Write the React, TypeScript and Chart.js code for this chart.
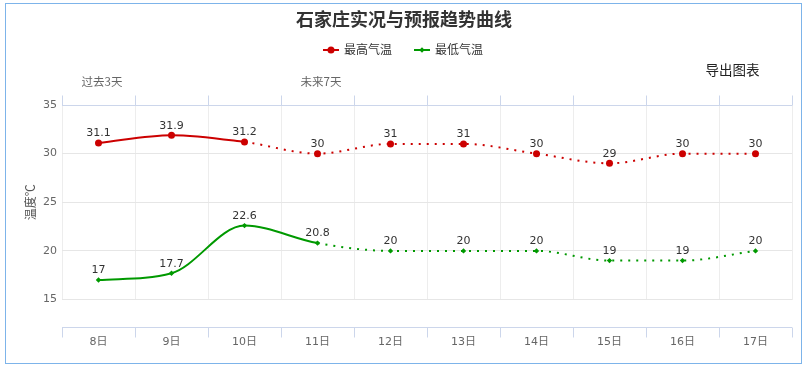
import React, { useEffect, useRef } from 'react';
import { Chart, registerables } from 'chart.js';

Chart.register(...registerables);

const chartTitle = '石家庄实况与预报趋势曲线';
const categories = ['8日', '9日', '10日', '11日', '12日', '13日', '14日', '15日', '16日', '17日'];
const seriesNames = ['最高气温', '最低气温'];
const highTemps = [31.1, 31.9, 31.2, 30, 31, 31, 30, 29, 30, 30];
const lowTemps = [17, 17.7, 22.6, 20.8, 20, 20, 20, 19, 19, 20];
// number of points drawn with a solid (observed) line, the rest are dotted (forecast)
const highSolidCount = 3;
const lowSolidCount = 4;
const yTicks = [15, 20, 25, 30, 35];
const yAxisTitle = '温度℃';
const bandLabels = ['过去3天', '未来7天'];
const bandStarts = [0, 3];
const exportLabel = '导出图表';

const RED = '#cc0000';
const GREEN = '#009900';
const LATIN = '"DejaVu Sans", "Noto Sans CJK SC", sans-serif';
const CJK = '"Noto Sans CJK SC", sans-serif';
const AXIS_OFFSET = 27.5;

const decorPlugin = {
  id: 'decor',
  beforeDatasetsDraw(chart: any) {
    const { ctx, chartArea } = chart;
    const xs = chart.scales.x;
    const align = (p: number) => Math.round(p - 0.5) + 0.5;
    ctx.save();
    ctx.strokeStyle = '#ccd6eb';
    ctx.lineWidth = 1;
    const topY = align(chartArea.top);
    const botY = align(chartArea.bottom + AXIS_OFFSET);
    ctx.beginPath();
    ctx.moveTo(chartArea.left, topY);
    ctx.lineTo(chartArea.right, topY);
    ctx.moveTo(chartArea.left, botY);
    ctx.lineTo(chartArea.right, botY);
    for (let i = 0; i <= categories.length; i++) {
      const px = align(xs.getPixelForValue(i - 0.5));
      ctx.moveTo(px, topY - 10);
      ctx.lineTo(px, topY);
      ctx.moveTo(px, botY);
      ctx.lineTo(px, botY + 10);
    }
    ctx.stroke();
    ctx.restore();
  },
  afterDatasetsDraw(chart: any) {
    const { ctx } = chart;
    ctx.save();
    ctx.font = `11px ${LATIN}`;
    ctx.fillStyle = '#333333';
    ctx.textAlign = 'center';
    ctx.textBaseline = 'middle';
    chart.data.datasets.forEach((ds: any, di: number) => {
      const meta = chart.getDatasetMeta(di);
      meta.data.forEach((el: any, i: number) => {
        ctx.fillText(String(ds.data[i]), el.x, el.y - 9.5);
      });
    });
    ctx.restore();
  },
  afterDraw(chart: any) {
    const { ctx } = chart;
    const xs = chart.scales.x;
    const ys = chart.scales.y;
    ctx.save();
    // outer border
    ctx.strokeStyle = '#7db4ea';
    ctx.lineWidth = 1;
    ctx.strokeRect(5.5, 3.5, 796, 360);

    // title
    ctx.fillStyle = '#333333';
    ctx.font = `bold 18px ${CJK}`;
    ctx.textAlign = 'center';
    ctx.textBaseline = 'middle';
    ctx.fillText(chartTitle, 404, 19);

    // legend
    ctx.font = `12px ${CJK}`;
    const symW = 16;
    const gapText = 5;
    const itemGap = 22;
    const widths = chart.data.datasets.map((ds: any) => symW + gapText + ctx.measureText(ds.label).width);
    const total = widths.reduce((a: number, b: number) => a + b, 0) + itemGap * (widths.length - 1);
    let lx = 403 - total / 2;
    const ly = 50;
    chart.data.datasets.forEach((ds: any, i: number) => {
      ctx.strokeStyle = ds.borderColor;
      ctx.fillStyle = ds.borderColor;
      ctx.lineWidth = 2;
      ctx.beginPath();
      ctx.moveTo(lx, ly);
      ctx.lineTo(lx + symW, ly);
      ctx.stroke();
      const cx = lx + symW / 2;
      ctx.beginPath();
      if (ds.pointStyle === 'rectRot') {
        const r = ds.pointRadius;
        ctx.moveTo(cx - r, ly);
        ctx.lineTo(cx, ly - r);
        ctx.lineTo(cx + r, ly);
        ctx.lineTo(cx, ly + r);
        ctx.closePath();
      } else {
        ctx.arc(cx, ly, ds.pointRadius, 0, Math.PI * 2);
      }
      ctx.fill();
      ctx.fillStyle = '#333333';
      ctx.textAlign = 'left';
      ctx.fillText(ds.label, lx + symW + gapText, ly - 0.5);
      lx += widths[i] + itemGap;
    });

    // export label
    ctx.fillStyle = '#222222';
    ctx.font = `13.5px ${CJK}`;
    ctx.textAlign = 'left';
    ctx.fillText(exportLabel, 705.5, 69.5);

    // band labels
    ctx.fillStyle = '#666666';
    ctx.font = `11.5px ${CJK}`;
    bandLabels.forEach((t, i) => {
      ctx.fillText(t, xs.getPixelForValue(bandStarts[i] - 0.5) + 19.5, 82);
    });

    // y axis title
    const midY = (ys.getPixelForValue(yTicks[0]) + ys.getPixelForValue(yTicks[yTicks.length - 1])) / 2;
    ctx.translate(30.5, midY);
    ctx.rotate(-Math.PI / 2);
    ctx.font = `12px ${CJK}`;
    ctx.fillStyle = '#555555';
    ctx.textAlign = 'center';
    ctx.fillText(yAxisTitle, 0, 0);
    ctx.restore();
  },
};

export default function App() {
  const canvasRef = useRef<HTMLCanvasElement | null>(null);

  useEffect(() => {
    if (!canvasRef.current) return;
    const chart = new Chart(canvasRef.current, {
      type: 'line',
      data: {
        labels: categories,
        datasets: [
          {
            label: seriesNames[0],
            data: highTemps,
            borderColor: RED,
            backgroundColor: RED,
            pointBackgroundColor: RED,
            pointBorderColor: RED,
            pointBorderWidth: 0,
            pointRadius: 3.5,
            pointStyle: 'circle',
            borderWidth: 2,
            cubicInterpolationMode: 'monotone',
            fill: false,
            segment: {
              borderDash: (c: any) => (c.p0DataIndex >= highSolidCount - 1 ? [2, 6] : undefined),
            },
          } as any,
          {
            label: seriesNames[1],
            data: lowTemps,
            borderColor: GREEN,
            backgroundColor: GREEN,
            pointBackgroundColor: GREEN,
            pointBorderColor: GREEN,
            pointBorderWidth: 0,
            pointRadius: 2.7,
            pointStyle: 'rectRot',
            borderWidth: 2,
            cubicInterpolationMode: 'monotone',
            fill: false,
            segment: {
              borderDash: (c: any) => (c.p0DataIndex >= lowSolidCount - 1 ? [2, 6] : undefined),
            },
          } as any,
        ],
      },
      options: {
        responsive: false,
        animation: false,
        layout: { padding: { top: 105, left: 0, right: 14, bottom: 0 } },
        plugins: {
          legend: { display: false },
          title: { display: false },
          tooltip: { enabled: false },
        },
        scales: {
          x: {
            type: 'category',
            offset: true,
            grid: { offset: true, color: '#ededed', drawTicks: false },
            border: { display: false },
            ticks: {
              padding: 36,
              color: '#666666',
              font: { family: LATIN, size: 11 },
              maxRotation: 0,
              autoSkip: false,
            },
            afterFit: (s: any) => {
              s.height = 67.5;
            },
          },
          y: {
            min: yTicks[0],
            max: yTicks[yTicks.length - 1],
            grid: { color: '#e6e6e6', drawTicks: false },
            border: { display: false },
            ticks: {
              padding: 5,
              color: '#666666',
              font: { family: LATIN, size: 11 },
            },
            afterBuildTicks: (s: any) => {
              s.ticks = yTicks.map((v) => ({ value: v }));
            },
            afterFit: (s: any) => {
              s.width = 62;
            },
          },
        },
      } as any,
      plugins: [decorPlugin],
    });
    return () => chart.destroy();
  }, []);

  return (
    <div style={{ position: 'absolute', left: 0, top: 0, width: 806, height: 367, background: '#fff' }}>
      <canvas ref={canvasRef} width={806} height={367} style={{ display: 'block' }} />
    </div>
  );
}
